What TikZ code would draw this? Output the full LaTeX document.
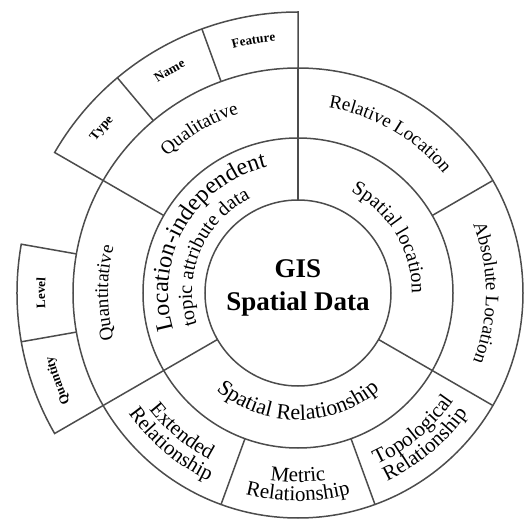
\documentclass[tikz,border=0pt]{standalone}
\usepackage{fontspec}
\setmainfont{Liberation Serif}
\usepackage{tikz}
\usetikzlibrary{decorations.text}

\newcommand{\fontCore}{\fontsize{27}{33}\selectfont}
\newcommand{\fontBig}{\fontsize{24}{28}\selectfont}
\newcommand{\fontMid}{\fontsize{20}{24}\selectfont}
\newcommand{\fontRel}{\fontsize{22}{26}\selectfont}
\newcommand{\fontOut}{\fontsize{19}{22}\selectfont}
\newcommand{\fontLow}{\fontsize{21}{25}\selectfont}
\newcommand{\fontTab}{\fontsize{13}{15}\selectfont\bfseries}

\begin{document}
\begin{tikzpicture}[
  ring/.style={line width=1.5pt, draw=black!70},
  curved/.style={decorate, decoration={text along path, text align=center, text={#1}}}
]
\tikzstyle{every node}+=[inner sep=0pt]
\useasboundingbox (-298pt,-239pt) rectangle (229pt,293pt);
% rings
\draw [ring] (0,0) circle (93pt);
\draw [ring] (0,0) circle (155pt);
\draw [ring] (0,0) circle (225pt);
% tabs at the top and on the left
\draw [ring] (90:225pt) -- (90:281pt) arc (90:150:281pt) -- (150:155pt);
\draw [ring] (110:225pt) -- (110:281pt);
\draw [ring] (130:225pt) -- (130:281pt);
\draw [ring] (170:225pt) -- (170:281pt) arc (170:210:281pt) -- (210:93pt);
\draw [ring] (190:225pt) -- (190:281pt);
% dividers
\draw [ring] (90:93pt) -- (90:225pt);
\draw [ring] (330:93pt) -- (330:225pt);
\draw [ring] (30:155pt) -- (30:225pt);
\draw [ring] (250:155pt) -- (250:225pt);
\draw [ring] (290:155pt) -- (290:225pt);
% centre
\node (core) at (0,5pt) [align=center, font=\bfseries\fontCore] {GIS\\Spatial Data};
% middle ring
\path [curved={|\fontBig|Location-independent}] (210:130pt) arc (210:90:130pt);
\path [curved={|\fontMid|topic attribute data}] (217:106pt) arc (217:97:106pt);
\path [curved={|\fontMid|Spatial location}] (90:114pt) arc (90:-28:114pt);
\path [curved={|\fontRel|Spatial Relationship}] (210:127pt) arc (210:330:127pt);
% outer ring
\path [curved={|\fontOut|Qualitative}] (150:189pt) arc (150:92:189pt);
\path [curved={|\fontOut|Quantitative}] (210:190pt) arc (210:150:190pt);
\path [curved={|\fontOut|Relative Location}] (90:188pt) arc (90:30:188pt);
\path [curved={|\fontOut|Absolute Location}] (30:188pt) arc (30:-30:188pt);
\path [curved={|\fontLow|Extended}] (200:189pt) arc (200:260:189pt);
\path [curved={|\fontLow|Relationship}] (200:208pt) arc (200:260:208pt);
\path [curved={|\fontLow|Metric}] (240:189pt) arc (240:300:189pt);
\path [curved={|\fontLow|Relationship}] (240:208pt) arc (240:300:208pt);
\path [curved={|\fontLow|Topological}] (280:189pt) arc (280:340:189pt);
\path [curved={|\fontLow|Relationship}] (280:208pt) arc (280:340:208pt);
% tabs
\path [curved={|\fontTab|Type}] (150:253pt) arc (150:130:253pt);
\path [curved={|\fontTab|Name}] (130:253pt) arc (130:110:253pt);
\path [curved={|\fontTab|Feature}] (110:253pt) arc (110:90:253pt);
\path [curved={|\fontTab|Level}] (190:253pt) arc (190:170:253pt);
\path [curved={|\fontTab|Quantity}] (210:253pt) arc (210:190:253pt);
\end{tikzpicture}
\end{document}
